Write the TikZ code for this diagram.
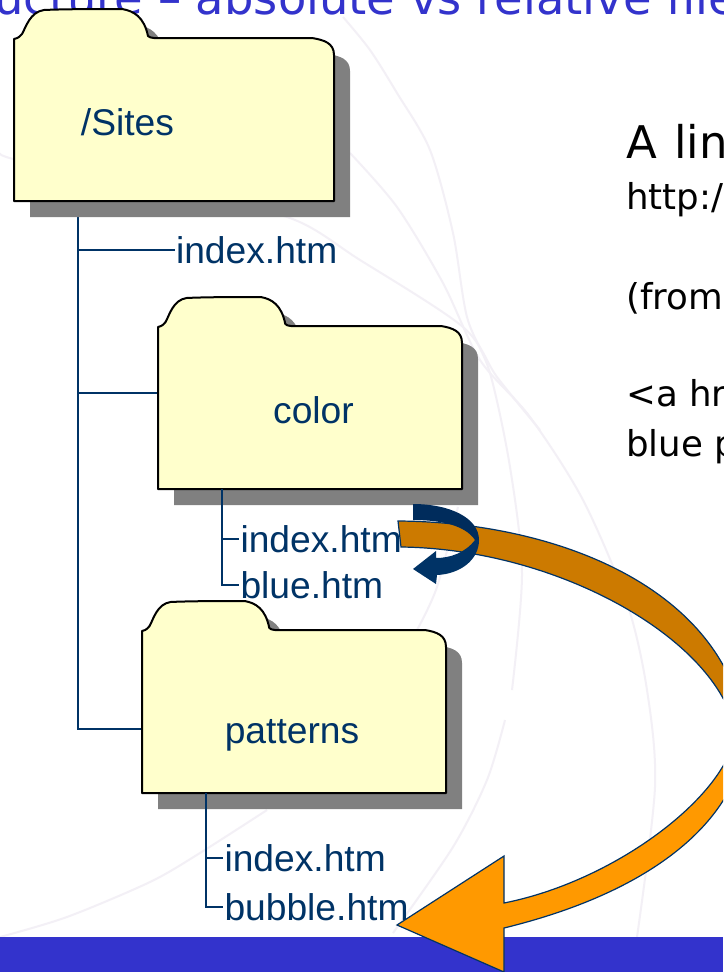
\documentclass[tikz,border=0pt]{standalone}
\usepackage{fontspec}
\newfontfamily\arialf{Liberation Sans}
\newfontfamily\verdf{DejaVu Sans}
\definecolor{navy}{HTML}{003366}
\definecolor{navyd}{HTML}{002C5C}
\definecolor{bandblue}{HTML}{3333CC}
\definecolor{foldy}{HTML}{FFFFCC}
\definecolor{foldshadow}{HTML}{808080}
\definecolor{faint}{HTML}{F3F0F6}
\definecolor{orgd}{HTML}{CC7A00}
\definecolor{orgl}{HTML}{FF9900}
\tikzset{
  x=1pt,y=-1pt,
  treeline/.style={draw=navy,line width=1.9pt},
  filelabel/.style={anchor=base west,inner xsep=1.5pt,inner ysep=0pt,outer sep=0pt,text=navy,font=\arialf\fontsize{37.2}{40}\selectfont},
  foldlabel/.style={anchor=base,inner sep=0pt,text=navy,font=\arialf\fontsize{37.2}{40}\selectfont},
  bigtext/.style={anchor=base west,inner sep=0pt,text=black,font=\verdf\fontsize{45}{48}\selectfont},
  bodytext/.style={anchor=base west,inner sep=0pt,text=black,font=\verdf\fontsize{35.6}{38}\selectfont},
  faintline/.style={draw=faint,line width=2pt},
  arrowedge/.style={draw=navy,line width=1.2pt,line join=miter},
}
\newcommand{\folderpath}{(0,30) .. controls (5,29) and (6,27) .. (8,25) .. controls (12,18) and (16,3) .. (30,1) .. controls (50,0) and (90,0) .. (108,0) .. controls (120,2) and (130,8) .. (134,27) .. controls (135,28) and (137,29) .. (140,29) -- (298,29) .. controls (310,31) and (320,34) .. (320,46) -- (320,192) -- (0,192) -- cycle}
\newcommand{\drawfolder}[3]{%
  \begin{scope}[shift={(#1+16,#2+16)},xscale=#3/320]
    \fill[foldshadow] \folderpath;
  \end{scope}
  \begin{scope}[shift={(#1,#2)},xscale=#3/320]
    \draw[fill=foldy,draw=black,line width=2pt,line join=round] \folderpath;
  \end{scope}}
\begin{document}
\begin{tikzpicture}
\useasboundingbox (0,0) rectangle (723,972);
\clip (0,0) rectangle (723,972);
\fill[white] (0,0) rectangle (723,972);
% faint background swirl
\draw[faintline] plot[smooth] coordinates {(343,17) (370,50) (397,93) (430,150) (453,233) (467,317) (490,373) (510,467) (522,573) (512,690)};
\draw[faintline] plot[smooth] coordinates {(350,153) (397,207) (443,283) (480,360) (530,417) (583,500) (627,603) (647,690) (655,787) (637,937)};
\draw[faintline] plot[smooth] coordinates {(0,153) (17,160) (150,190) (287,217) (360,260) (463,327) (497,377) (540,430)};
\draw[faintline] plot[smooth] coordinates {(458,507) (437,587) (417,630)};
\draw[faintline] plot[smooth] coordinates {(505,720) (487,780) (453,847) (393,933)};
\draw[faintline] plot[smooth] coordinates {(0,937) (67,917) (150,882) (200,853) (267,810)};
% title and bottom band
\node[anchor=base west,inner sep=0pt,text=bandblue,font=\verdf\fontsize{46.4}{50}\selectfont] (title) at (-6,14) {ucture – absolute vs relative file};
\fill[bandblue] (0,937) rectangle (723,972);
% right-hand text
\node[bigtext] (head) at (626,158.5) {A\hspace{3pt} lin};
\node[bodytext] (url) at (626,209.5) {http:/};
\node[bodytext] (from) at (626,309) {(from};
\node[bodytext] (href) at (626,406) {<a hr};
\node[bodytext] (bluep) at (626,456) {blue p};
% tree anchors
\coordinate (sitesT) at (78,217);
\coordinate (colT) at (222,489);
\coordinate (patT) at (206,793);
\coordinate (colL) at (158,393);
\coordinate (patL) at (142,729);
% file labels
\node[filelabel] (idxS) at (174.5,263.5) {index.htm};
\node[filelabel] (idxC) at (239,552) {index.htm};
\node[filelabel] (blueC) at (239,598) {blue.htm};
\node[filelabel] (idxP) at (223,871) {index.htm};
\node[filelabel] (bubP) at (223,920) {bubble.htm};
% connectors from the root folder
\draw[treeline] (sitesT) |- (idxS.west);
\draw[treeline] (sitesT) |- (colL);
\draw[treeline] (sitesT) |- (patL);
% folders
\drawfolder{14}{9}{320}
\drawfolder{158}{297}{304}
\drawfolder{142}{601}{304}
\node[foldlabel] (sites) at (127.5,135) {/Sites};
\node[foldlabel] (color) at (313.5,423) {color};
\node[foldlabel] (patterns) at (292,743) {patterns};
% connectors from sub-folders
\draw[treeline] (colT) |- (idxC.west);
\draw[treeline] (colT) |- (blueC.west);
\draw[treeline] (patT) |- (idxP.west);
\draw[treeline] (patT) |- (bubP.west);
% long curved arrow
\fill[orgd] (398,521) .. controls (560,522) and (725,590) .. (745,730) -- (735,730) .. controls (717,640) and (560,549) .. (401,547) -- cycle;
\fill[orgl] (745,730) .. controls (745,800) and (680,885) .. (504,928) -- (504,972) -- (397,925) -- (504,856) -- (504,903) .. controls (620,880) and (733,790) .. (735,730) -- cycle;
\draw[arrowedge] (398,521) .. controls (560,522) and (725,590) .. (745,730) .. controls (745,800) and (680,885) .. (504,928) -- (504,972) -- (397,925) -- (504,856) -- (504,903) .. controls (620,880) and (733,790) .. (735,730) .. controls (717,640) and (560,549) .. (401,547) -- cycle;
% small U-turn arrow
\fill[navyd] (413,504) .. controls (450,504) and (479,518) .. (479,540) -- (475,540) .. controls (465,525) and (440,520) .. (413,520) -- cycle;
\fill[navy] (479,540) .. controls (479,560) and (460,574) .. (437,575) -- (436,584) -- (413,569) -- (436,551) -- (436,558) .. controls (450,558) and (465,553) .. (475,540) -- cycle;
\end{tikzpicture}
\end{document}
